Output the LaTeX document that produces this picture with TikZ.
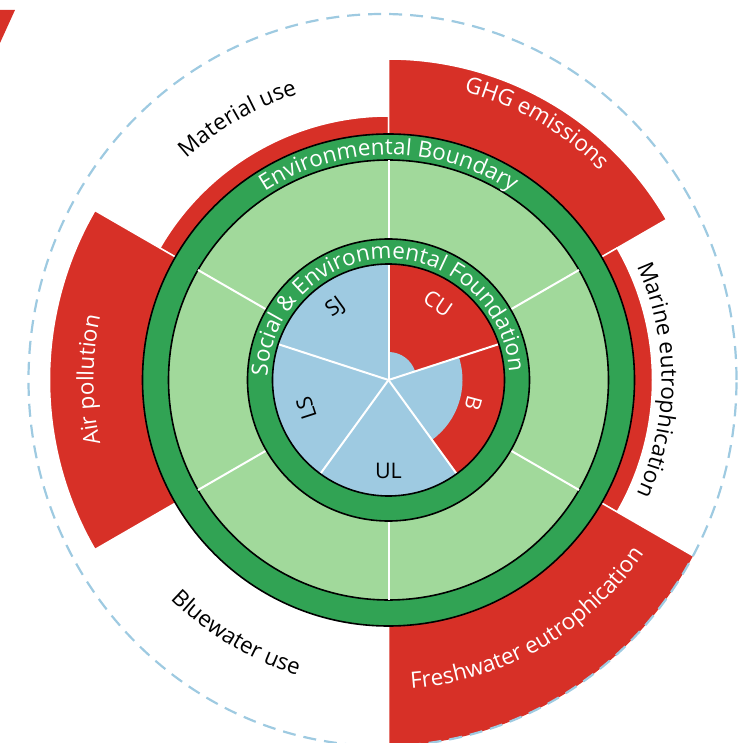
\documentclass[tikz,border=0pt]{standalone}
\usepackage{fontspec}
\setmainfont{Open Sans}
\usetikzlibrary{decorations.text}
\definecolor{dred}{RGB}{215,48,39}
\definecolor{dgreen}{RGB}{49,163,84}
\definecolor{lgreen}{RGB}{161,217,155}
\definecolor{lblue}{RGB}{158,202,225}
\newcommand\lblfont{\fontsize{22.5}{26}\selectfont}
\newcommand\piefont{\fontsize{21.5}{24}\selectfont}
\tikzset{
  wedge/.style={fill=dred, draw=white, line width=1.5pt},
  ringline/.style={draw=black, line width=1.6pt},
  sepline/.style={white, line width=2pt},
  arclabel/.style={decorate, decoration={text along path, text align=center, text color=#1}},
  pielabel/.style={font=\piefont, text=#1, inner sep=0pt},
}
\begin{document}
\begin{tikzpicture}[x=1pt,y=1pt]
\useasboundingbox (-388.5,-363) rectangle (348.5,380);
% corner fragment
\fill[dred] (-388.5,370) -- (-373.5,370) -- (-388.5,337) -- cycle;
% outer wedges
\draw[wedge] (0,0) -- (90:264) arc[start angle=90,end angle=150,radius=264] -- cycle;
\draw[wedge] (0,0) -- (30:321) arc[start angle=30,end angle=90,radius=321] -- cycle;
\draw[wedge] (0,0) -- (-30:264) arc[start angle=-30,end angle=30,radius=264] -- cycle;
\begin{scope}
  \clip (-6,0) ellipse [x radius=354, y radius=366];
  \draw[wedge] (0,0) -- (-90:390) arc[start angle=-90,end angle=-30,radius=390] -- cycle;
\end{scope}
\draw[wedge] (0,0) -- (150:339) arc[start angle=150,end angle=210,radius=339] -- cycle;
% dashed outer circle
\draw[lblue, line width=2.2pt, dash pattern=on 13pt off 8pt] (-6,0) ellipse [x radius=354, y radius=366];
% environmental boundary ring
\filldraw[fill=dgreen, ringline] (0,0) circle (246);
\filldraw[fill=lgreen, ringline] (0,0) circle (220);
\foreach \a in {90,30,-30,-90,-150,150} \draw[sepline] (\a:141) -- (\a:220);
% foundation ring
\filldraw[fill=dgreen, ringline] (0,0) circle (141);
% pie
\fill[lblue] (0,0) circle (116);
\fill[dred] (0,0) -- (18:116) arc[start angle=18,end angle=90,radius=116] -- cycle;
\fill[lblue] (0,0) -- (18:28) arc[start angle=18,end angle=90,radius=28] -- cycle;
\fill[dred] (0,0) -- (-54:116) arc[start angle=-54,end angle=18,radius=116] -- cycle;
\fill[lblue] (0,0) -- (-54:74) arc[start angle=-54,end angle=18,radius=74] -- cycle;
\foreach \a in {90,18,-54,-126,162} \draw[sepline] (0,0) -- (\a:116);
\draw[ringline] (0,0) circle (116);
% pie labels
\node[pielabel=black, rotate=36] (sj) at (126:90) {SJ};
\node[pielabel=black, rotate=108] (ls) at (199:87) {LS};
\node[pielabel=black] (ul) at (270:91) {UL};
\node[pielabel=white, rotate=-105] (b) at (-15:88) {B};
\node[pielabel=white, rotate=-34] (cu) at (57:91) {CU};
% ring texts
\path[arclabel=white, decoration={text={|\lblfont|Environmental Boundary}}]
  (180:225) arc[start angle=180,end angle=0,radius=225];
\path[arclabel=white, decoration={text={|\lblfont|Social {\&} Environmental Foundation}}]
  (181:121) arc[start angle=181,end angle=1,radius=121];
% outer labels
\path[arclabel=black, decoration={text={|\lblfont|Material use}}]
  (210:300) arc[start angle=210,end angle=30,radius=300];
\path[arclabel=white, decoration={text={|\lblfont|GHG emissions}}]
  (150:298) arc[start angle=150,end angle=-30,radius=298];
\path[arclabel=black, decoration={text={|\lblfont|Marine eutrophication}}]
  (90:273) arc[start angle=90,end angle=-90,radius=273];
\path[arclabel=white, decoration={text={|\lblfont|Air pollution}}]
  (270:295) arc[start angle=270,end angle=90,radius=295];
\path[arclabel=white, decoration={text={|\lblfont|Freshwater eutrophication}}]
  (-150:309) arc[start angle=-150,end angle=30,radius=309];
\path[arclabel=black, decoration={text={|\lblfont|Bluewater use}}]
  (-211:309) arc[start angle=-211,end angle=-31,radius=309];
\end{tikzpicture}
\end{document}
